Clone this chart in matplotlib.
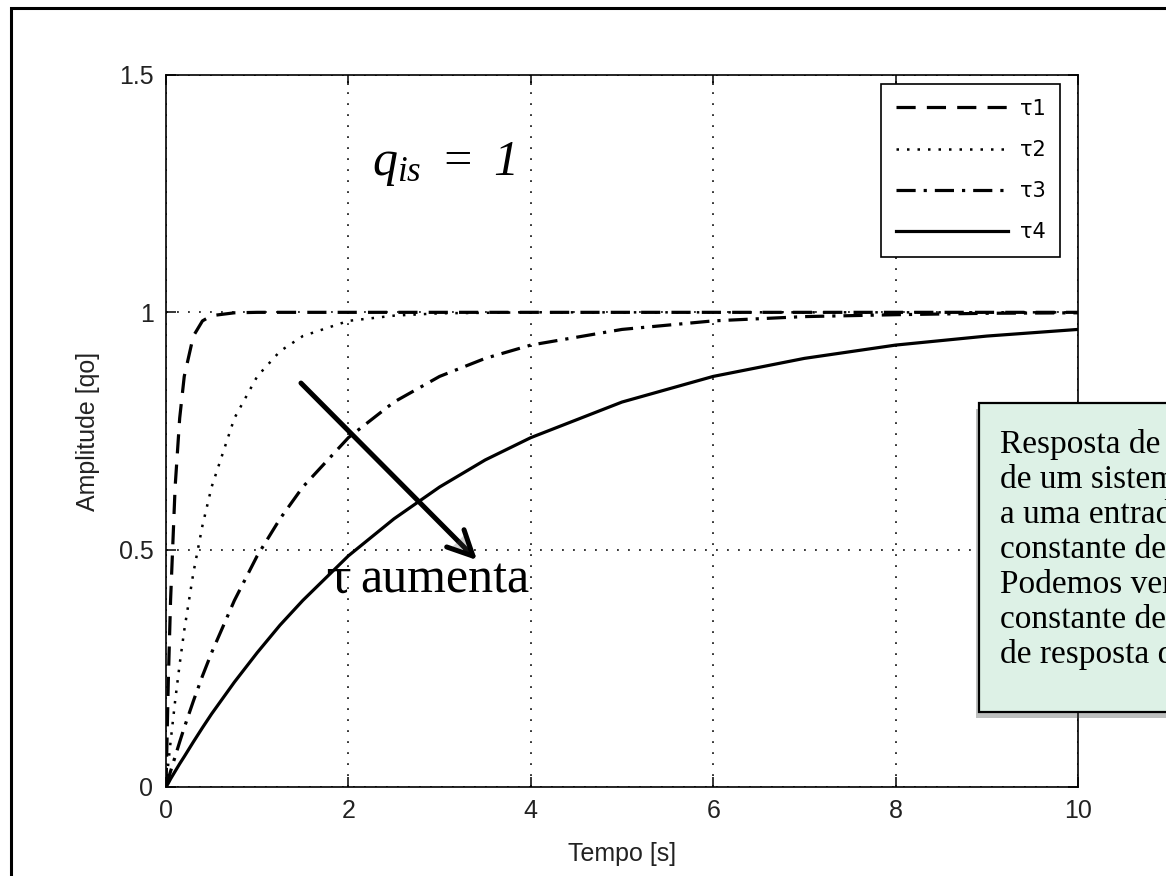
import matplotlib.pyplot as plt
from matplotlib.patches import Rectangle
import matplotlib.patheffects as pe

plt.rcParams['mathtext.fontset'] = 'custom'
plt.rcParams['mathtext.it'] = 'Liberation Serif:italic'
plt.rcParams['mathtext.rm'] = 'Liberation Serif:italic'

# step responses of first order systems, read at these instants [s]
t = [0, 0.025, 0.05, 0.1, 0.15, 0.2, 0.3, 0.4, 0.5, 0.75, 1, 1.25, 1.5,
     2, 2.5, 3, 3.5, 4, 5, 6, 7, 8, 9, 10]
tau1 = [0, 0.221, 0.393, 0.632, 0.777, 0.865, 0.950, 0.982, 0.993, 0.999, 1, 1, 1,
        1, 1, 1, 1, 1, 1, 1, 1, 1, 1, 1]
tau2 = [0, 0.049, 0.095, 0.181, 0.259, 0.330, 0.451, 0.551, 0.632, 0.777, 0.865, 0.918, 0.950,
        0.982, 0.993, 0.998, 0.999, 1, 1, 1, 1, 1, 1, 1]
tau3 = [0, 0.017, 0.033, 0.064, 0.095, 0.125, 0.181, 0.234, 0.283, 0.393, 0.487, 0.565, 0.632,
        0.736, 0.811, 0.865, 0.903, 0.931, 0.964, 0.982, 0.991, 0.995, 0.998, 0.999]
tau4 = [0, 0.008, 0.017, 0.033, 0.049, 0.064, 0.095, 0.125, 0.154, 0.221, 0.283, 0.341, 0.393,
        0.487, 0.565, 0.632, 0.689, 0.736, 0.811, 0.865, 0.903, 0.931, 0.950, 0.964]
labels = ['τ1', 'τ2', 'τ3', 'τ4']
xticks = [0, 2, 4, 6, 8, 10]
yticks = [0, 0.5, 1, 1.5]
ytick_labels = ['0', '0.5', '1', '1.5']

box_lines = ['Resposta de degrau unitário',
             'de um sistema de primeira ordem',
             'a uma entrada com diferentes',
             'constante de tempo.',
             'Podemos ver que quanto maior a',
             'constante de tempo, maior o tempo',
             'de resposta do sistema.']

W, H = 1166, 876
fig = plt.figure(figsize=(W / 100, H / 100), dpi=100)

# page frame
fig.patches.append(Rectangle((11 / W, -0.05), 1.2, 1 - 8 / H + 0.05, fill=False,
                             lw=2.2, ec='black', transform=fig.transFigure))

ax = fig.add_axes([166 / W, 89 / H, 912 / W, 712 / H])
ax.plot(t, tau1, color='black', lw=2.3, ls=(0, (6, 3.5)), label=labels[0])
ax.plot(t, tau2, color='black', lw=1.8, ls=(0, (1, 3.2)), label=labels[1])
ax.plot(t, tau3, color='black', lw=2.3, ls=(0, (6, 2.5, 1, 2.5)), label=labels[2])
ax.plot(t, tau4, color='black', lw=2.3, ls='-', label=labels[3])

ax.set_xlim(0, 10)
ax.set_ylim(0, 1.5)
ax.set_xticks(xticks)
ax.set_yticks(yticks)
ax.set_yticklabels(ytick_labels)
ax.grid(True, color='black', lw=1.1, ls=(0, (1.2, 6)))
ax.tick_params(direction='in', length=7, width=1.1, top=True, right=True,
               labelsize=18, pad=9)
for s in ax.spines.values():
    s.set_linewidth(1.2)
for lab in ax.get_xticklabels() + ax.get_yticklabels():
    lab.set_fontfamily('Liberation Sans')
    lab.set_color('#222222')

ax.set_xlabel('Tempo [s]', fontsize=18, family='Liberation Sans', color='#222222')
ax.set_ylabel('Amplitude [qo]', fontsize=18, family='Liberation Sans', color='#222222')
ax.xaxis.set_label_coords(0.5, -0.077)
ax.yaxis.set_label_coords(-0.072, 0.5)

leg = ax.legend(loc='upper right', bbox_to_anchor=(1060 / W, 1 - 84 / H),
                bbox_transform=fig.transFigure, borderaxespad=0, fancybox=False,
                framealpha=1, edgecolor='black', fontsize=15, handlelength=5.4,
                labelspacing=1.02, borderpad=0.7, handletextpad=0.55)
leg.get_frame().set_linewidth(1.2)

ax.text(2.26, 1.29, r'$q_{is}\ =\ 1$', fontsize=36)
ax.text(1.74, 0.41, 'τ', fontsize=34, family='DejaVu Serif')
ax.text(2.13, 0.41, 'aumenta', fontsize=36, family='Liberation Serif')

ax.annotate('', xy=(3.41, 0.478), xytext=(1.48, 0.851),
            arrowprops=dict(arrowstyle='->,head_length=0.45,head_width=0.22',
                            lw=3.6, color='black', mutation_scale=40,
                            shrinkA=0, shrinkB=0,
                            path_effects=[pe.SimplePatchShadow(offset=(2, -2), alpha=0.25),
                                          pe.Normal()]))

# annotation panel at the right edge
panel = Rectangle((979 / W, 164 / H), 0.3, 309 / H, fc='#ddf1e6', ec='black', lw=1.6,
                  transform=fig.transFigure, zorder=5,
                  path_effects=[pe.SimplePatchShadow(offset=(-2, -4), alpha=0.35),
                                pe.Normal()])
fig.patches.append(panel)
for i, line in enumerate(box_lines):
    fig.text(1000 / W, 1 - (453 + 35 * i) / H, line, fontsize=24,
             family='Liberation Serif', va='baseline', zorder=6)

fig.savefig('out.png', dpi=100)
